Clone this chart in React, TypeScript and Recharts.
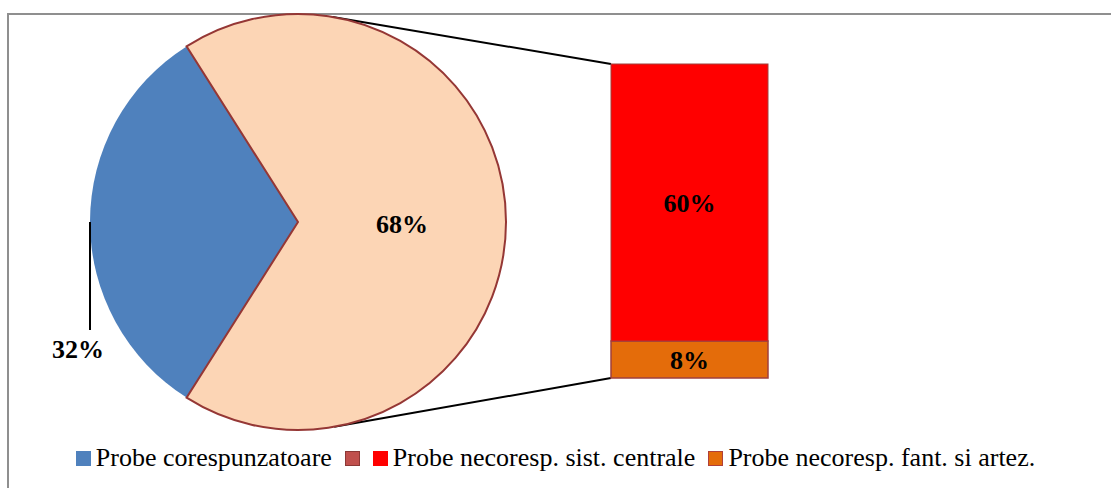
import React from 'react';
import { PieChart, Pie, Cell, BarChart, Bar, XAxis, YAxis, LabelList, Legend } from 'recharts';

const W = 1111;
const H = 488;
const FONT = "'Liberation Serif', 'DejaVu Serif', serif";

// Pie data
const PIE_NAMES = ['Probe corespunzatoare', 'Probe necorespunzatoare'];
const PIE_VALUES = [32, 68];
const PIE_COLORS = ['#4F81BD', '#FCD5B5'];
const PIE_STROKES = ['none', '#953735'];

// Bar (breakdown of the second slice)
const BAR_CATEGORIES = ['Probe necorespunzatoare'];
const BAR_SIST = [60];
const BAR_FANT = [8];
const BAR_COLORS = { sist: '#FF0000', fant: '#E46C0A' };

// Legend entries
const LEGEND_LABELS = ['Probe corespunzatoare', '', 'Probe necoresp. sist. centrale', 'Probe necoresp. fant. si artez.'];
const LEGEND_COLORS = ['#4F81BD', '#C0504D', '#FF0000', '#E46C0A'];
const LEGEND_BORDERS = ['#4F81BD', '#8C3836', '#FF0000', '#B0403A'];

const pieData = PIE_NAMES.map((name, i) => ({ name, value: PIE_VALUES[i] }));
const barData = BAR_CATEGORIES.map((name, i) => ({ name, sist: BAR_SIST[i], fant: BAR_FANT[i] }));

// layout
const PIE_CX = 298;
const PIE_CY = 222;
const PIE_R = 208;
const totalPie = PIE_VALUES.reduce((a, b) => a + b, 0);
const firstSweep = (PIE_VALUES[0] / totalPie) * 360;
const START = 180 - firstSweep / 2;

function tangent(px: number, py: number, upper: boolean) {
  const dx = px - PIE_CX;
  const dy = py - PIE_CY;
  const d = Math.sqrt(dx * dx + dy * dy);
  const phi = Math.atan2(dy, dx);
  const a = Math.acos(PIE_R / d);
  const p1 = { x: PIE_CX + PIE_R * Math.cos(phi + a), y: PIE_CY + PIE_R * Math.sin(phi + a) };
  const p2 = { x: PIE_CX + PIE_R * Math.cos(phi - a), y: PIE_CY + PIE_R * Math.sin(phi - a) };
  if (upper) return p1.y < p2.y ? p1 : p2;
  return p1.y > p2.y ? p1 : p2;
}

const makeShape = (upper: boolean, strokeWidth: number) => (props: any) => {
  const { x, y, width, height, fill } = props;
  const px = x;
  const py = upper ? y : y + height;
  const t = tangent(px, py, upper);
  return (
    <g>
      <line x1={px} y1={py} x2={t.x} y2={t.y} stroke="#000" strokeWidth={2} />
      <rect x={x} y={y} width={width} height={height} fill={fill} stroke="#A0403D" strokeWidth={strokeWidth} />
    </g>
  );
};

const RAD = Math.PI / 180;
const renderPieLabel = (props: any) => {
  const { cx, cy, midAngle, outerRadius, index } = props;
  const val = PIE_VALUES[index];
  const style = { fontFamily: FONT, fontSize: 26, fontWeight: 700 as const, fill: '#000' };
  if (index === 1) {
    const rr = outerRadius * 0.5;
    const x = cx + rr * Math.cos(-midAngle * RAD);
    const y = cy + rr * Math.sin(-midAngle * RAD);
    return (
      <text x={x} y={y + 2} textAnchor="middle" dominantBaseline="central" style={style}>
        {val}%
      </text>
    );
  }
  const ex = cx + outerRadius * Math.cos(-midAngle * RAD);
  const ey = cy + outerRadius * Math.sin(-midAngle * RAD);
  return (
    <g>
      <line x1={ex} y1={ey} x2={ex} y2={ey + 108} stroke="#000" strokeWidth={2} />
      <text x={ex - 12} y={ey + 127} textAnchor="middle" dominantBaseline="central" style={style}>
        {val}%
      </text>
    </g>
  );
};

const renderLegend = () => (
  <div
    style={{
      display: 'flex',
      justifyContent: 'center',
      alignItems: 'center',
      fontFamily: FONT,
      fontSize: 26,
      color: '#000',
      whiteSpace: 'nowrap',
      lineHeight: '30px',
    }}
  >
    {LEGEND_LABELS.map((label, i) => (
      <div key={i} style={{ display: 'flex', alignItems: 'center', marginRight: i < LEGEND_LABELS.length - 1 ? 13 : 0 }}>
        <span
          style={{
            display: 'inline-block',
            width: 13,
            height: 13,
            background: LEGEND_COLORS[i],
            border: `1px solid ${LEGEND_BORDERS[i]}`,
            marginRight: label ? 5 : 0,
          }}
        />
        {label ? <span>{label}</span> : null}
      </div>
    ))}
  </div>
);

const labelStyle = { fontFamily: FONT, fontSize: 26, fontWeight: 700, fill: '#000' };

export default function App() {
  return (
    <div style={{ position: 'absolute', left: 0, top: 0, width: W, height: H, overflow: 'hidden', background: '#fff', fontFamily: FONT }}>
      <div
        style={{
          position: 'absolute',
          left: 7,
          top: 13,
          width: W + 20,
          height: H + 20,
          borderLeft: '2px solid #8f8f8f',
          borderTop: '2px solid #8f8f8f',
          boxSizing: 'border-box',
        }}
      />
      <div style={{ position: 'absolute', left: 0, top: 0 }}>
        <BarChart
          width={W}
          height={H}
          data={barData}
          margin={{ left: 611, right: W - 768, top: 64, bottom: H - 378 }}
          barCategoryGap={0}
        >
          <XAxis dataKey="name" type="category" hide />
          <YAxis type="number" domain={[0, BAR_SIST[0] + BAR_FANT[0]]} hide />
          <Bar dataKey="fant" stackId="a" fill={BAR_COLORS.fant} isAnimationActive={false} shape={makeShape(false, 1.5)}>
            <LabelList dataKey="fant" position="center" formatter={(v: any) => `${v}%`} style={labelStyle} fontFamily={FONT} />
          </Bar>
          <Bar dataKey="sist" stackId="a" fill={BAR_COLORS.sist} isAnimationActive={false} shape={makeShape(true, 1)}>
            <LabelList dataKey="sist" position="center" formatter={(v: any) => `${v}%`} style={labelStyle} fontFamily={FONT} />
          </Bar>
        </BarChart>
      </div>
      <div style={{ position: 'absolute', left: 0, top: 0 }}>
        <PieChart width={W} height={H} margin={{ top: 0, left: 0, right: 0, bottom: 0 }}>
          <Pie
            data={pieData}
            dataKey="value"
            nameKey="name"
            cx={PIE_CX}
            cy={PIE_CY}
            outerRadius={PIE_R}
            startAngle={START}
            endAngle={START + 360}
            isAnimationActive={false}
            label={renderPieLabel}
            labelLine={false}
          >
            {pieData.map((d, i) => (
              <Cell key={d.name} fill={PIE_COLORS[i]} stroke={PIE_STROKES[i]} strokeWidth={2} />
            ))}
          </Pie>
          <Legend
            content={renderLegend}
            wrapperStyle={{ position: 'absolute', left: 0, top: 443, width: W }}
          />
        </PieChart>
      </div>
    </div>
  );
}
